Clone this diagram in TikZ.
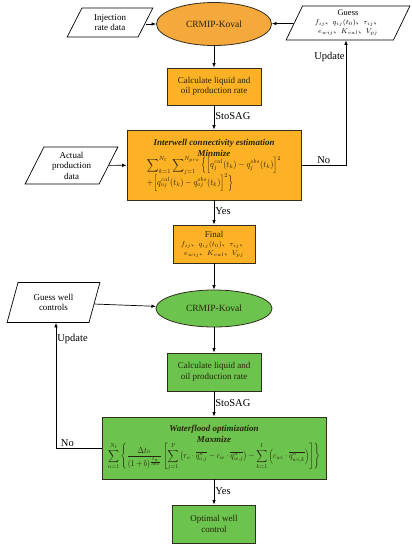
\documentclass[tikz,border=0pt]{standalone}
\usepackage{amsmath}
\usepackage{graphicx}
\usepackage{fontspec}
\setmainfont{Liberation Serif}
\newfontfamily\cjk{Noto Sans CJK SC}
\usetikzlibrary{shapes.geometric,arrows.meta}
\newcommand\cjkcomma{\mbox{\cjk 、}}
\definecolor{orfill}{RGB}{252,178,36}
\definecolor{orell}{RGB}{245,168,60}
\definecolor{grfill}{RGB}{108,196,78}
\definecolor{txt}{RGB}{40,36,10}
\definecolor{bord}{RGB}{50,45,30}
\tikzset{
  box/.style={draw=bord, line width=0.8pt, text=txt, align=center, font=\fontsize{9}{10.5}\selectfont, inner sep=1pt},
  obox/.style={box, fill=orfill},
  gbox/.style={box, fill=grfill},
  ell/.style={ellipse, draw=bord, line width=0.8pt, text=txt, font=\fontsize{9.5}{11}\selectfont, inner sep=0pt},
  para/.style={trapezium, trapezium stretches=true, draw=black, line width=0.7pt, align=center, font=\fontsize{9}{10.5}\selectfont, inner sep=0pt},
  arr/.style={-{Latex[length=4.5pt,width=3.5pt]}, line width=0.7pt},
  lab/.style={font=\fontsize{10.5}{12}\selectfont, inner sep=1pt}
}
\begin{document}
\begin{tikzpicture}[x=1pt,y=-1pt]
\useasboundingbox (0,0) rectangle (412,550);
% top part
\node[ell, fill=orell, minimum width=115pt, minimum height=43pt] (ell1) at (214,24) {CRMIP-Koval};
\node[para, trapezium left angle=63, trapezium right angle=117, minimum width=86pt, minimum height=29pt] (inj) at (110,22.5) {Injection\\rate data};
\node[para, trapezium left angle=65, trapezium right angle=115, minimum width=124pt, minimum height=34pt, font=\fontsize{7.5}{9}\selectfont] (guess) at (348,23) {{\fontsize{8.5}{9}\selectfont Guess}\\
  $f_{ij}\cjkcomma q_{ij}(t_0)\cjkcomma \tau_{ij}\cjkcomma$\\
  $e_{wij}\cjkcomma K_{val}\cjkcomma V_{pj}$};
\node[obox, minimum width=94pt, minimum height=37pt] (calc1) at (214,86.5) {Calculate liquid and\\oil production rate};
\node[obox, minimum width=174pt, minimum height=70pt, font=\fontsize{9}{11}\selectfont] (iw) at (214,165) {%
  {\bfseries\itshape Interwell connectivity estimation}\\
  {\bfseries\itshape Minmize}\\[-1pt]
  \resizebox*{134pt}{35pt}{\begin{tabular}{@{}l@{}}
  $\displaystyle\sum\nolimits_{k=1}^{N_t}\sum\nolimits_{j=1}^{N_{pro}}\Big\{\Big[q_j^{cal}(t_k)-q_j^{obs}(t_k)\Big]^2$\\[-1pt]
  $+\Big[q_{oj}^{cal}(t_k)-q_{oj}^{obs}(t_k)\Big]^2\Big\}$
  \end{tabular}}};
\node[para, trapezium left angle=64, trapezium right angle=116, minimum width=93pt, minimum height=37pt] (act) at (71.5,165.5) {Actual\\production\\data};
\node[obox, minimum width=82pt, minimum height=38pt, font=\fontsize{7.5}{9}\selectfont] (final) at (214,244) {{\fontsize{9}{10}\selectfont Final}\\
  $f_{ij}\cjkcomma q_{ij}(t_0)\cjkcomma \tau_{ij}\cjkcomma$\\
  $e_{wij}\cjkcomma K_{val}\cjkcomma V_{pj}$};
% bottom part
\node[ell, fill=grfill, minimum width=116pt, minimum height=37pt] (ell2) at (214,308.5) {CRMIP-Koval};
\node[para, trapezium left angle=70, trapezium right angle=110, minimum width=93pt, minimum height=40pt] (gwc) at (53.5,302.5) {Guess well\\controls};
\node[gbox, minimum width=94pt, minimum height=38pt] (calc2) at (214,372) {Calculate liquid and\\oil production rate};
\node[gbox, minimum width=224pt, minimum height=62pt, font=\fontsize{9}{11}\selectfont] (wf) at (214,448) {%
  {\bfseries\itshape Waterflood optimization}\\
  {\bfseries\itshape Maxmize}\\[-1pt]
  \resizebox*{212pt}{28pt}{$\displaystyle\sum_{n=1}^{N_t}\left\{\frac{\Delta t_n}{(1+b)^{\frac{t_n}{365}}}\left[\sum_{j=1}^{P}\left(r_o\cdot\overline{q_{o,j}^{n}}-c_w\cdot\overline{q_{w,j}^{n}}\right)-\sum_{k=1}^{I}\left(c_{wi}\cdot\overline{q_{wi,k}^{n}}\right)\right]\right\}$}};
\node[gbox, minimum width=83pt, minimum height=38pt] (opt) at (214,524) {Optimal well\\control};
% connectors top
\draw[arr] (inj.east |- ell1.west) -- (ell1.west);
\draw[arr] (guess) -- (ell1);
\draw[arr] (ell1) -- (calc1);
\draw[arr] (calc1) -- node[lab, right, pos=0.45] {StoSAG} (iw);
\draw[arr] (act) -- (iw);
\coordinate (nr) at (346,165);
\draw[arr] (iw.east) -- node[lab, above, pos=0.5] {No} (nr) -- node[lab, left, pos=0.87] {Update} (nr |- guess.south);
\draw[arr] (iw) -- node[lab, right, pos=0.45] {Yes} (final);
\draw[arr] (final) -- (ell2);
% connectors bottom
\draw[arr] (gwc) -- (ell2);
\draw[arr] (ell2) -- (calc2);
\draw[arr] (calc2) -- node[lab, right, pos=0.45] {StoSAG} (wf);
\coordinate (nl) at (56,448);
\draw[arr] (wf.west) -- node[lab, above, pos=0.75] {No} (nl) -- node[lab, right, pos=0.87] {Update} (nl |- gwc.south);
\draw[arr] (wf) -- node[lab, right, pos=0.45] {Yes} (opt);
\end{tikzpicture}
\end{document}
